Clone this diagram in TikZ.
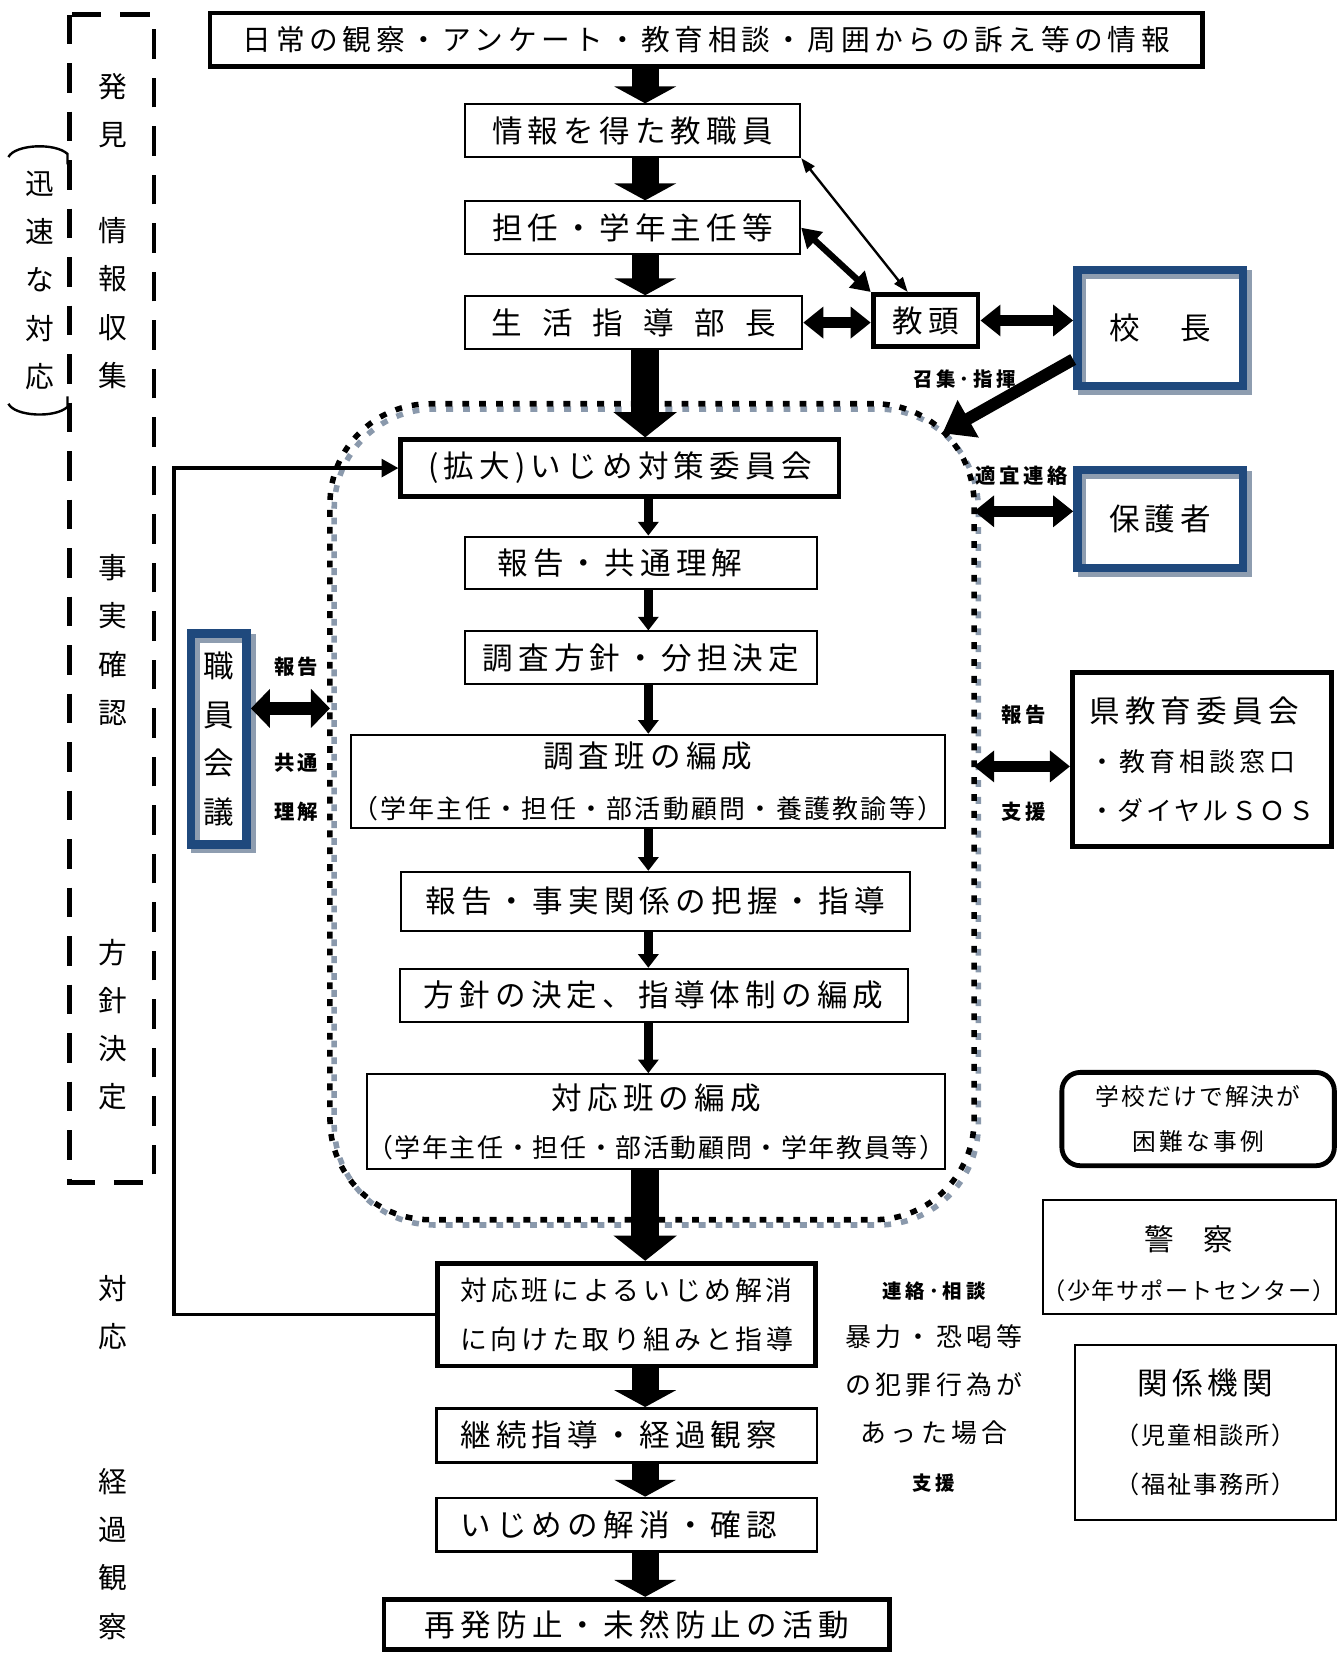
\documentclass[tikz,border=0pt]{standalone}
\usepackage{fontspec}
\setmainfont{Noto Sans CJK JP}
\usetikzlibrary{arrows.meta, positioning, backgrounds}

\definecolor{frameblue}{HTML}{1F497D}
\definecolor{shadowgray}{HTML}{8E9DB0}
\definecolor{dotgray}{HTML}{8A99AC}

\newcommand{\jsize}[3]{\fontsize{#1pt}{#2pt}\selectfont\addfontfeature{LetterSpace=#3}}

\tikzset{
    flow/.style={draw, line width=1.1pt, inner sep=0pt, align=center, font=\jsize{16.5}{27}{17}},
    flowmid/.style={flow, line width=1.5pt},
    flowthick/.style={flow, line width=2.6pt},
    bluebox/.style={flow, draw=frameblue, line width=1.6mm},
    region/.style={draw, line width=1.05mm, dash pattern=on 1.3mm off 1.9mm, rounded corners=19mm, outer sep=0pt, inner sep=0pt},
    regionshade/.style={draw=dotgray, line width=1.05mm, dash pattern=on 1.3mm off 1.9mm, dash phase=1.6mm, rounded corners=19mm},
    blueshade/.style={draw=shadowgray, line width=1.6mm},
    stageframe/.style={line width=0.9mm, dash pattern=on 5.6mm off 3.6mm},
    parenline/.style={line width=1.3pt},
    stagetext/.style={inner sep=0pt, align=center, font=\jsize{15.5}{26}{0}},
    tagtext/.style={inner sep=0pt, align=center, font=\bfseries\jsize{10.5}{26.2}{20}},
    bigarrow/.style={line width=5.1mm, -{Triangle[width=11.6mm, length=3.2mm]}},
    biglong/.style={line width=5.3mm, -{Triangle[width=11.8mm, length=4.8mm]}},
    midarrow/.style={line width=1.6mm, -{Triangle[width=3.8mm, length=2.6mm]}},
    dblarrow/.style={line width=2mm, {Triangle[width=5.8mm, length=3.8mm]}-{Triangle[width=5.8mm, length=3.8mm]}},
    widearrow/.style={line width=2.6mm, {Triangle[width=7.2mm, length=3.6mm]}-{Triangle[width=7.2mm, length=3.6mm]}},
    tiltarrow/.style={line width=1.2mm, {Triangle[width=4.2mm, length=3.6mm]}-{Triangle[width=4.2mm, length=3.6mm]}},
    thinarrow/.style={line width=0.45mm, {Triangle[width=2mm, length=2.8mm]}-{Triangle[width=2mm, length=2.8mm]}},
    callarrow/.style={line width=2.3mm, -{Triangle[width=7.8mm, length=5.6mm]}},
    backarrow/.style={line width=1.8pt, -{Triangle[width=3.4mm, length=3.2mm]}}
}

\begin{document}
\begin{tikzpicture}[x=0.2mm, y=-0.2mm]
    \useasboundingbox (0,0) rectangle (1272,1568);

    % committee area (dotted)
    \node[region, minimum width=122.2mm, minimum height=154.8mm] (iinkai) at (618.5,770) {};

    % left stage column
    \draw[stageframe] (66,14) rectangle (146,1122);
    \node[stagetext] (hakken) at (107,105) {発\\見};
    \node[stagetext] (shushu) at (107,287.5) {情\\報\\収\\集};
    \node[stagetext] (kakunin) at (107,607) {事\\実\\確\\認};
    \node[stagetext] (kettei) at (107,972) {方\\針\\決\\定};
    \node[stagetext] (taio) at (107,1245) {対\\応};
    \node[stagetext] (kansatsu) at (107,1474) {経\\過\\観\\察};
    \node[stagetext] (jinsoku) at (38,266) {迅\\速\\な\\対\\応};
    \draw[parenline] (8,149) .. controls (14,137) and (52,135) .. (64,146) -- (64,156);
    \draw[parenline] (8,383) .. controls (14,395) and (52,397) .. (64,386) -- (64,376);

    % main flow
    \node[flowthick, font=\jsize{15.5}{20}{16}, minimum width=188.3mm, minimum height=10.1mm] (top) at (670,37.5) {日常の観察・アンケート・教育相談・周囲からの訴え等の情報};
    \node[flow, minimum width=63.6mm, minimum height=10mm] (info) at (600,124) {情報を得た教職員};
    \node[flow, minimum width=63.6mm, minimum height=10mm] (tannin) at (600,216) {担任・学年主任等};
    \node[flow, font=\jsize{16.5}{27}{66}, minimum width=64mm, minimum height=10mm] (seikatsu) at (601,306) {生活指導部長};
    \node[flowthick, minimum width=19.9mm, minimum height=9.9mm] (kyoto) at (878,304) {教頭};
    \node[bluebox, minimum width=31.4mm, minimum height=22mm] (kocho) at (1100.5,311) {校　長};
    \node[bluebox, minimum width=31.4mm, minimum height=18.6mm] (hogosha) at (1100.5,492.5) {保護者};

    \node[flow, line width=2.4pt, minimum width=83.2mm, minimum height=10.8mm] (kakudai) at (588,444) {(拡大)いじめ対策委員会};
    \node[flow, minimum width=66.8mm, minimum height=10mm] (hokoku) at (608,534) {報告・共通理解\hspace*{8mm}};
    \node[flow, minimum width=66.8mm, minimum height=10mm] (chosa) at (608,624) {調査方針・分担決定};
    \node[flow, font=\jsize{16.5}{27.3}{17}, minimum width=112.6mm, minimum height=17.6mm] (chosahan) at (614.5,741) {調査班の編成\\{\jsize{14}{27.3}{9}（学年主任・担任・部活動顧問・養護教諭等）}};
    \node[flow, minimum width=96.6mm, minimum height=11.2mm] (jijitsu) at (621.5,855) {報告・事実関係の把握・指導};
    \node[flow, minimum width=96.4mm, minimum height=10mm] (hoshin) at (620,944) {方針の決定、指導体制の編成};
    \node[flow, font=\jsize{16.5}{25.6}{17}, minimum width=109.4mm, minimum height=18mm] (taiohan) at (622.5,1064) {対応班の編成\\{\jsize{14}{25.6}{6.5}（学年主任・担任・部活動顧問・学年教員等）}};

    \node[flowthick, font=\jsize{14.5}{26.2}{14}, minimum width=71.7mm, minimum height=19.5mm] (torikumi) at (594.5,1247) {対応班によるいじめ解消\\に向けた取り組みと指導};
    \node[flowmid, minimum width=72.2mm, minimum height=10.2mm] (keizoku) at (594.5,1361.5) {継続指導・経過観察\hspace*{3mm}};
    \node[flowmid, minimum width=72.2mm, minimum height=10.2mm] (kaisho) at (594.5,1446.5) {いじめの解消・確認\hspace*{3mm}};
    \node[flowthick, minimum width=95.9mm, minimum height=9.6mm] (saihatsu) at (604,1541) {再発防止・未然防止の活動};

    % side boxes
    \node[bluebox, font=\jsize{16.5}{26.2}{0}, minimum width=10.6mm, minimum height=40mm] (shokuin) at (207.5,701) {職\\員\\会\\議};
    \node[flowthick, align=left, font=\jsize{16.5}{26.4}{17}, minimum width=49.1mm, minimum height=32.9mm] (kenkyoi) at (1140,720.5) {県教育委員会\\{\jsize{14}{26.4}{16}・教育相談窓口}\\{\jsize{14}{26.4}{10}・ダイヤルＳＯＳ}};
    \node[flowthick, rounded corners=3.5mm, font=\jsize{12.8}{24.5}{9}, minimum width=51.7mm, minimum height=17.7mm] (gakko) at (1136.5,1061.5) {学校だけで解決が\\{\addfontfeature{LetterSpace=14}困難な事例}};
    \node[flow, font=\jsize{16}{26.2}{0}, minimum width=55.6mm, minimum height=21.6mm] (keisatsu) at (1128,1192) {\rule{0pt}{21pt}警　察\\{\jsize{12.5}{26.2}{6}（少年サポートセンター）}};
    \node[flow, font=\jsize{16.5}{26.7}{15}, minimum width=49.4mm, minimum height=33.2mm] (kankei) at (1143.5,1359) {関係機関\\{\jsize{13}{26.7}{8}（児童相談所）}\\{\jsize{13}{26.7}{8}（福祉事務所）}};

    % small labels
    \node[tagtext] (shoshu) at (915,360) {召集･指揮};
    \node[tagtext, font=\bfseries\jsize{11}{26.2}{18}] (tekigi) at (969,451) {適宜連絡};
    \node[tagtext, font=\bfseries\jsize{11}{26.2}{15}] (hokokuR) at (971,678) {報告};
    \node[tagtext, font=\bfseries\jsize{11}{26.2}{15}] (shienR) at (971,770) {支援};
    \node[tagtext, font=\bfseries\jsize{11}{26.2}{15}] (hokokuL) at (281,632) {報告};
    \node[tagtext, font=\bfseries\jsize{11}{26.2}{15}] (rikaiL) at (281,747) {共通\\理解};
    \node[inner sep=0pt, align=center, font=\jsize{14}{25.9}{17}] (hanzai) at (886,1316) {{\bfseries\jsize{10.5}{25.9}{20}連絡･相談}\\暴力・恐喝等\\の犯罪行為が\\あった場合\\{\bfseries\jsize{10.5}{25.9}{20}支援}};

    % arrows down the column
    \coordinate (spine) at (612,0);
    \coordinate (spinein) at (615,0);
    \draw[bigarrow] (top.south -| spine) -- (info.north -| spine);
    \draw[bigarrow] (info.south -| spine) -- (tannin.north -| spine);
    \draw[bigarrow] (tannin.south -| spine) -- (seikatsu.north -| spine);
    \draw[biglong] (seikatsu.south -| spine) -- (kakudai.north -| spine);
    \draw[midarrow] (kakudai.south -| spinein) -- (hokoku.north -| spinein);
    \draw[midarrow] (hokoku.south -| spinein) -- (chosa.north -| spinein);
    \draw[midarrow] (chosa.south -| spinein) -- (chosahan.north -| spinein);
    \draw[midarrow] (chosahan.south -| spinein) -- (jijitsu.north -| spinein);
    \draw[midarrow] (jijitsu.south -| spinein) -- (hoshin.north -| spinein);
    \draw[midarrow] (hoshin.south -| spinein) -- (taiohan.north -| spinein);
    \draw[biglong] (taiohan.south -| spine) -- (torikumi.north -| spine);
    \draw[bigarrow] (torikumi.south -| spine) -- (keizoku.north -| spine);
    \draw[bigarrow] (keizoku.south -| spine) -- (kaisho.north -| spine);
    \draw[bigarrow] (kaisho.south -| spine) -- (saihatsu.north -| spine);

    % side connections
    \draw[dblarrow] (seikatsu.east) -- (seikatsu.east -| kyoto.west);
    \draw[dblarrow] (kyoto.east) -- (kyoto.east -| kocho.west);
    \draw[tiltarrow] (tannin.east) -- (kyoto.north west);
    \draw[thinarrow] (info.south east) -- ([xshift=-3.4mm]kyoto.north);
    \draw[callarrow] ([yshift=-6mm]kocho.west) -- ([shift={(-30,28)}]iinkai.north east);
    \draw[dblarrow] ([yshift=1.5mm]hogosha.west) -- ([yshift=1.5mm]hogosha.west -| iinkai.east);
    \draw[dblarrow] ([yshift=-1.3mm]kenkyoi.west) -- ([yshift=-1.3mm]kenkyoi.west -| iinkai.east);
    \draw[widearrow] ([yshift=5.8mm]shokuin.east) -- ([yshift=5.8mm]shokuin.east -| iinkai.west);
    \coordinate (loopcorner) at (165,1247);
    \draw[backarrow] (torikumi.west) -- (loopcorner) |- (kakudai.west);

    % shadows
    \begin{scope}[on background layer]
        \fill[white] (0,0) rectangle (1272,1568);
        \draw[blueshade] ([shift={(8.5,8.5)}]kocho.north west) rectangle ([shift={(0.5,0.5)}]kocho.south east);
        \draw[blueshade] ([shift={(8.5,8.5)}]hogosha.north west) rectangle ([shift={(0.5,0.5)}]hogosha.south east);
        \draw[blueshade] ([shift={(8.5,8.5)}]shokuin.north west) rectangle ([shift={(0.5,0.5)}]shokuin.south east);
        \draw[regionshade] ([shift={(4,5)}]iinkai.north west) rectangle ([shift={(4,5)}]iinkai.south east);
    \end{scope}
\end{tikzpicture}
\end{document}
